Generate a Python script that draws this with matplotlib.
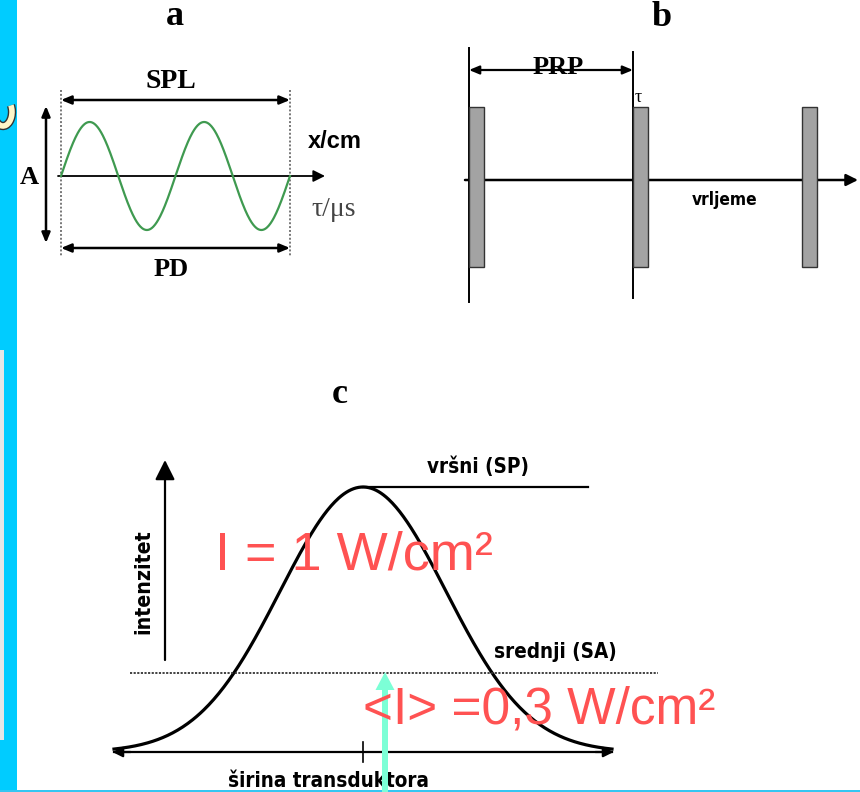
import matplotlib
matplotlib.use('Agg')
import matplotlib.pyplot as plt
import matplotlib.patheffects as pe
from matplotlib import font_manager
from matplotlib.patches import Rectangle, Arc
import numpy as np

W, H = 860, 792

# panel a: wave over the pulse (two cycles, unit amplitude)
wave_cycles = 2
wave_amplitude = 1.0
# panel b: pulse start times in units of PRP, pulse duration tau
pulse_start = [0.0, 1.0, 2.03]
pulse_tau = 0.09
# panel c: beam intensity profile across the transducer (W/cm2)
peak_intensity = 1.0     # SP
mean_intensity = 0.3     # SA
profile_halfwidth = 3.0  # sigma units

panel_titles = ['a', 'b', 'c']

SERIF = 'Liberation Serif'
RED = '#FF5252'
names = {f.name for f in font_manager.fontManager.ttflist}
if 'Liberation Sans Narrow' in names:
    NARROW, NSTRETCH, NS = 'Liberation Sans Narrow', 'normal', 1.0
else:
    NARROW, NSTRETCH, NS = 'DejaVu Sans', 'condensed', 0.8

fig = plt.figure(figsize=(8.6, 7.92), dpi=100)
bg = fig.add_axes([0, 0, 1, 1])
bg.set_xlim(0, W)
bg.set_ylim(H, 0)
bg.axis('off')


def panel(px0, px1, py_bottom, py_top, xlim, ylim):
    ax = fig.add_axes([px0 / W, 1 - py_bottom / H, (px1 - px0) / W, (py_bottom - py_top) / H])
    ax.set_xlim(*xlim)
    ax.set_ylim(*ylim)
    ax.axis('off')
    return ax


def arrow(ax, p0, p1, style, ms=10, lw=1.5, color='k'):
    ax.annotate('', xy=p1, xytext=p0, annotation_clip=False,
                arrowprops=dict(arrowstyle=style, mutation_scale=ms, lw=lw, color=color,
                                shrinkA=0, shrinkB=0))


def narrow(ax, x, y, s, size, **kw):
    ax.text(x, y, s, fontsize=size * NS, fontweight='bold', family=NARROW,
            fontstretch=NSTRETCH, **kw)


# slide decoration
bg.add_patch(Rectangle((0, 0), 17, H, color='#00CCFF', lw=0))
bg.add_patch(Rectangle((0, 350), 4, 390, color='#E6E6E6', lw=0))
bg.add_patch(Rectangle((0, 789.5), W, 3, color='#35C6F2', lw=0))
hook = Arc((3, 112), 18, 28, theta1=-40, theta2=160, color='#FFF6C8', lw=4)
hook.set_path_effects([pe.withStroke(linewidth=6, foreground='#333333')])
bg.add_patch(hook)

# panel titles
for (x, y), t in zip([(175, 25), (662, 26), (340, 403)], panel_titles):
    bg.text(x, y, t, fontsize=26, fontweight='bold', family=SERIF, ha='center', va='baseline')

# ---- panel a
axa = panel(61, 290, 230, 122, (0, wave_cycles), (-1.0, 1.0))
t = np.linspace(0, wave_cycles, 400)
axa.plot(t, wave_amplitude * np.sin(2 * np.pi * t), color='#3F9A50', lw=1.6, clip_on=False)

for x in (61, 290):
    bg.plot([x, x], [90, 256], color='#777777', lw=1.4, ls=(0, (1, 1)))
sm = '<|-|>,head_length=0.6,head_width=0.25'
arrow(bg, (61, 100), (290, 100), sm, lw=1.8)
arrow(bg, (61, 248), (290, 248), sm, lw=1.8)
arrow(bg, (46, 106), (46, 243), sm, lw=1.8)
arrow(bg, (58, 176), (325, 176), '-|>,head_length=0.7,head_width=0.35', lw=1.3)
bg.text(171, 81, 'SPL', fontsize=20, fontweight='bold', family=SERIF, ha='center', va='center')
bg.text(171, 270, 'PD', fontsize=19, fontweight='bold', family=SERIF, ha='center', va='center')
bg.text(29, 177, 'A', fontsize=19, fontweight='bold', family=SERIF, ha='center', va='center')
bg.text(308, 142, 'x/cm', fontsize=17, fontweight='bold', family='Liberation Sans', ha='left', va='center')
bg.text(311, 210, 'τ/μs', fontsize=20, family=SERIF, color='#444444', ha='left', va='center')

# ---- panel b
axb = panel(469, 633, 267, 107, (0, 1), (-1, 1))
axb.bar(pulse_start, 2, width=pulse_tau, bottom=-1, align='edge', color='#A3A3A3',
        edgecolor='#333333', lw=1, clip_on=False)
bg.plot([469, 469], [48, 302], 'k', lw=1.4)
bg.plot([633, 633], [52, 298], 'k', lw=1.4)
arrow(bg, (469, 70), (633, 70), sm, lw=1.6)
arrow(bg, (465, 180), (858, 180), '-|>,head_length=0.7,head_width=0.35', lw=1.8)
bg.text(558, 68, 'PRP', fontsize=19, fontweight='bold', family=SERIF, ha='center', va='center')
bg.text(638, 97, 'τ', fontsize=13, family=SERIF, ha='center', va='center')
narrow(bg, 725, 200, 'vrljeme', 15.5, ha='center', va='center')

# ---- panel c
axc = panel(114, 612, 752, 487, (-profile_halfwidth, profile_halfwidth), (0, peak_intensity))
x = np.linspace(-profile_halfwidth, profile_halfwidth, 400)
axc.plot(x, peak_intensity * np.exp(-x ** 2 / 2), 'k', lw=2.3, clip_on=False)
axc.plot([-profile_halfwidth, profile_halfwidth], [0, 0], 'k', lw=1.6, clip_on=False)
arrow(axc, (-2.8, 0.0), (-profile_halfwidth - 0.02, 0.0), '-|>,head_length=0.6,head_width=0.3', lw=1.6)
arrow(axc, (2.8, 0.0), (profile_halfwidth + 0.02, 0.0), '-|>,head_length=0.6,head_width=0.3', lw=1.6)
axc.plot([0, 0], [-0.038, 0.038], 'k', lw=1.2, clip_on=False)
axc.plot([0, 2.71], [peak_intensity] * 2, 'k', lw=1.6, clip_on=False)
axc.plot([-2.81, 3.55], [mean_intensity] * 2, color='#333333', lw=1.3, ls=(0, (1.2, 0.8)), clip_on=False)

arrow(bg, (165, 660), (165, 460), '-|>,head_length=1.0,head_width=0.5', ms=12, lw=1.6)
narrow(bg, 143, 582, 'intenzitet', 19, rotation=90, ha='center', va='center')
narrow(bg, 478, 467, 'vršni (SP)', 18.5, ha='center', va='center')
narrow(bg, 555, 652, 'srednji (SA)', 18.5, ha='center', va='center')
narrow(bg, 328, 781, 'širina transduktora', 18.5, ha='center', va='center')

# overlay: red annotations and marker arrow
fg = fig.add_axes([0, 0, 1, 1])
fg.set_xlim(0, W)
fg.set_ylim(H, 0)
fg.axis('off')
fg.text(215, 570, 'I = 1 W/cm²', color=RED, fontsize=39, family='Liberation Sans', ha='left', va='baseline')
fg.text(363, 723, '<I> =0,3 W/cm²', color=RED, fontsize=37, family='Liberation Sans', ha='left', va='baseline')
fg.arrow(385, 792, 0, -120, width=6, head_width=19, head_length=18, length_includes_head=True,
         fc='#7CFFD6', ec='none')

fig.savefig('out.png', dpi=100)
